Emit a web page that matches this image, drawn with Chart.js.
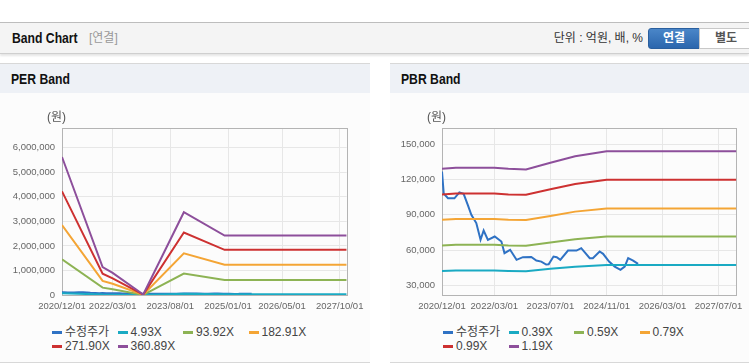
<!DOCTYPE html>
<html lang="ko">
<head>
<meta charset="utf-8">
<title>Band Chart</title>
<script src="https://cdn.jsdelivr.net/npm/chart.js@4.4.1/dist/chart.umd.min.js"></script>
<style>
    body { margin: 0; width: 749px; height: 364px; position: relative; overflow: hidden; background: #fff;
           font-family: "Liberation Sans", "Noto Sans CJK KR", sans-serif; color: #333; }
    .topbar { position: absolute; left: 0; top: 22px; width: 749px; height: 30px; background: #f4f4f4;
              border-top: 1px solid #bdbdbd; border-bottom: 1px solid #cfcfcf; box-shadow: 0 2px 2px rgba(0,0,0,0.10); }
    .narrow { display: inline-block; font-weight: bold; font-size: 14px; color: #111;
              transform: scaleX(0.87); transform-origin: left center; }
    .topbar .title { position: absolute; left: 12px; top: 7px; line-height: 16px; }
    .topbar .sub { position: absolute; left: 89px; top: 7px; line-height: 16px; font-size: 12px; color: #999; }
    .topbar .unit { position: absolute; right: 106px; top: 7px; line-height: 16px; font-size: 12px; color: #333; }
    .btn { position: absolute; top: 5px; height: 19px; line-height: 19px; text-align: center; font-size: 12px; font-weight: bold; }
    .btn.on { left: 648px; width: 50px; color: #fff; background: linear-gradient(#4a86c8, #2b66ad);
              border: 1px solid #2a5f9e; border-radius: 3px 0 0 3px; }
    .btn.off { left: 699px; width: 52px; color: #555; background: #fff; border: 1px solid #c8c8c8; }
    .panel { position: absolute; top: 63px; height: 298px; background: #fcfcfc;
             border-top: 1px solid #d8d8d8; border-bottom: 1px solid #d8d8d8; }
    .panel .head { height: 29px; line-height: 29px; padding-left: 11px; background: #eef1f6; }
    canvas { position: absolute; top: 100px; }
    .legend { position: absolute; top: 326px; width: 264px; display: flex; flex-wrap: wrap; font-size: 12px; color: #444; }
    .legend .item { width: 65.5px; line-height: 13.5px; white-space: nowrap; }
    .legend .mark { display: inline-block; width: 10px; height: 3px; margin-right: 3px; vertical-align: middle; }
</style>
</head>
<body>

<div class="topbar">
    <span class="title narrow">Band Chart</span>
    <span class="sub">[연결]</span>
    <span class="unit">단위 : 억원, 배, %</span>
    <span class="btn on">연결</span>
    <span class="btn off">별도</span>
</div>

<div class="panel" style="left:0; width:370px;"><div class="head"><span class="narrow">PER Band</span></div></div>
<div class="panel" style="left:390px; width:359px;"><div class="head"><span class="narrow">PBR Band</span></div></div>

<canvas id="perChart" width="370" height="220" style="left:0;"></canvas>
<canvas id="pbrChart" width="359" height="220" style="left:390px;"></canvas>

<div class="legend" id="perLegend" style="left:52px;"></div>
<div class="legend" id="pbrLegend" style="left:443px;"></div>

<script>
// adjusted share price (shared by both charts)
const priceDates = ['2020/12/01', '2020/12/16', '2021/01/22', '2021/03/19', '2021/05/01', '2021/06/07', '2021/07/13',
    '2021/08/13', '2021/09/25', '2021/11/01', '2021/11/28', '2022/01/04', '2022/03/04', '2022/05/01', '2022/05/28',
    '2022/07/16', '2022/09/10', '2022/11/04', '2023/01/16', '2023/03/01', '2023/04/13', '2023/05/25', '2023/06/16',
    '2023/07/28', '2023/08/25', '2023/09/25', '2023/12/01', '2024/02/13', '2024/03/25', '2024/06/07', '2024/07/04',
    '2024/09/01', '2024/10/01', '2024/11/22', '2025/01/10', '2025/03/01', '2025/04/07', '2025/05/07', '2025/06/19',
    '2025/08/01'];
const priceValues = [126700, 108000, 104000, 104000, 109000, 107800, 98500,
    90000, 83000, 68800, 76700, 68800, 71600, 67300, 57500,
    60300, 51800, 54100, 54300, 51200, 50300, 47800, 48000,
    54600, 54000, 51800, 59700, 59700, 61700, 53200, 53200,
    58900, 56900, 50400, 46100, 43300, 46100, 53200, 51200,
    48400];

// PER band
const perNames = ['4.93X', '93.92X', '182.91X', '271.90X', '360.89X'];
const perDates = ['2020/12/01', '2021/12/01', '2022/03/01', '2022/12/01', '2023/12/01', '2024/12/01', '2027/12/03'];
const per493 = [76000, 16000, 12000, 0, 46000, 33000, 33000];
const per9392 = [1450000, 300000, 235000, 5000, 875000, 615000, 615000];
const per18291 = [2850000, 575000, 460000, 10000, 1700000, 1235000, 1235000];
const per27190 = [4220000, 870000, 680000, 15000, 2545000, 1840000, 1840000];
const per36089 = [5620000, 1140000, 900000, 20000, 3370000, 2420000, 2420000];
const perXTicks = ['2020/12/01', '2022/03/01', '2023/08/01', '2025/01/01', '2026/05/01', '2027/10/01'];
const perYTicks = [0, 1000000, 2000000, 3000000, 4000000, 5000000, 6000000];

// PBR band
const pbrNames = ['0.39X', '0.59X', '0.79X', '0.99X', '1.19X'];
const pbrDates = ['2020/12/01', '2021/04/01', '2022/03/01', '2022/07/01', '2022/12/01', '2023/07/01', '2024/02/01', '2024/11/01', '2027/12/03'];
const pbr039 = [42400, 42700, 42700, 42400, 42200, 44300, 45900, 47500, 47500];
const pbr059 = [64000, 64600, 64600, 64000, 63800, 66500, 69300, 71600, 71600];
const pbr079 = [85800, 86500, 86500, 85800, 85500, 89000, 92700, 95400, 95400];
const pbr099 = [107200, 108000, 108000, 107200, 107000, 111600, 116100, 119700, 119700];
const pbr119 = [129000, 129800, 129800, 129000, 128400, 134200, 139600, 143800, 143800];
const pbrXTicks = ['2020/12/01', '2022/03/01', '2023/07/01', '2024/11/01', '2026/03/01', '2027/07/01'];
const pbrYTicks = [30000, 60000, 90000, 120000, 150000];

const lineColors = ['#2f72c4', '#1aaac3', '#8db354', '#f4a535', '#cd3131', '#8d4f9b'];

document.addEventListener("DOMContentLoaded", function () {

    const BASE = Date.UTC(2020, 11, 1);

    function dayNum(s) {
        const p = s.split('/');
        return (Date.UTC(+p[0], +p[1] - 1, +p[2]) - BASE) / 86400000;
    }

    function pad(n) { return n < 10 ? '0' + n : '' + n; }

    function dayLabel(v) {
        const d = new Date(BASE + v * 86400000);
        return d.getUTCFullYear() + '/' + pad(d.getUTCMonth() + 1) + '/' + pad(d.getUTCDate());
    }

    const tickFont = { family: '"Liberation Sans", sans-serif', size: 9.5 };

    /**
     * plot frame + "(원)" unit label
     */
    const frame = {
        id: 'frame',
        beforeDatasetsDraw(chart) {
            const a = chart.chartArea;
            const ctx = chart.ctx;
            ctx.save();
            ctx.strokeStyle = '#b4b4b4';
            ctx.lineWidth = 1;
            ctx.strokeRect(Math.round(a.left) + 0.5, Math.round(a.top) + 0.5, Math.round(a.width), Math.round(a.height));
            ctx.fillStyle = '#555';
            ctx.font = '12px "Liberation Sans", "Noto Sans CJK KR", sans-serif';
            ctx.textBaseline = 'middle';
            ctx.fillText('(원)', a.left - 15, a.top - 10);
            ctx.restore();
        }
    };

    function bandChart(canvasId, legendId, opt) {
        const datasets = [{
            label: '수정주가',
            data: priceDates.map((d, i) => ({ x: dayNum(d), y: priceValues[i] }))
        }];
        opt.bands.forEach(function (band, i) {
            datasets.push({
                label: opt.names[i],
                data: opt.dates.map((d, j) => ({ x: dayNum(d), y: band[j] }))
            });
        });
        datasets.forEach(function (ds, i) {
            ds.borderColor = lineColors[i];
            ds.backgroundColor = lineColors[i];
            ds.borderWidth = 2;
            ds.pointRadius = 0;
            ds.tension = 0;
            ds.fill = false;
            ds.order = datasets.length - i;   // later series on top
        });

        new Chart(document.getElementById(canvasId), {
            type: 'line',
            data: { datasets: datasets },
            plugins: [frame],
            options: {
                responsive: false,
                animation: false,
                events: [],
                layout: { padding: { top: 28, right: opt.padRight, left: 0, bottom: 0 } },
                plugins: { legend: { display: false }, tooltip: { enabled: false } },
                scales: {
                    x: {
                        type: 'linear',
                        min: 0,
                        max: dayNum('2027/12/03'),
                        afterBuildTicks: s => { s.ticks = opt.xTicks.map(d => ({ value: dayNum(d) })); },
                        afterFit: s => { s.height = 25; },
                        border: { display: false },
                        grid: { color: '#e7e7e7', drawTicks: false },
                        ticks: { callback: v => dayLabel(v), autoSkip: false, maxRotation: 0, padding: 6, color: '#666', font: tickFont }
                    },
                    y: {
                        min: opt.yMin,
                        max: opt.yMax,
                        afterBuildTicks: s => { s.ticks = opt.yTicks.map(v => ({ value: v })); },
                        afterFit: s => { s.width = opt.yWidth; },
                        border: { display: false },
                        grid: { color: '#e7e7e7', drawTicks: false },
                        ticks: { callback: v => v.toLocaleString('en-US'), padding: 7, color: '#666', font: tickFont }
                    }
                }
            }
        });

        // html legend, 4 columns
        document.getElementById(legendId).innerHTML = datasets.map(ds =>
            `<span class="item"><span class="mark" style="background:${ds.borderColor}"></span>${ds.label}</span>`
        ).join('');
    }

    bandChart('perChart', 'perLegend', {
        names: perNames,
        dates: perDates,
        bands: [per493, per9392, per18291, per27190, per36089],
        xTicks: perXTicks,
        yTicks: perYTicks,
        yMin: 0,
        yMax: 6800000,
        yWidth: 62,
        padRight: 23
    });

    bandChart('pbrChart', 'pbrLegend', {
        names: pbrNames,
        dates: pbrDates,
        bands: [pbr039, pbr059, pbr079, pbr099, pbr119],
        xTicks: pbrXTicks,
        yTicks: pbrYTicks,
        yMin: 22000,
        yMax: 163600,
        yWidth: 52,
        padRight: 12
    });
});
</script>
</body>
</html>
